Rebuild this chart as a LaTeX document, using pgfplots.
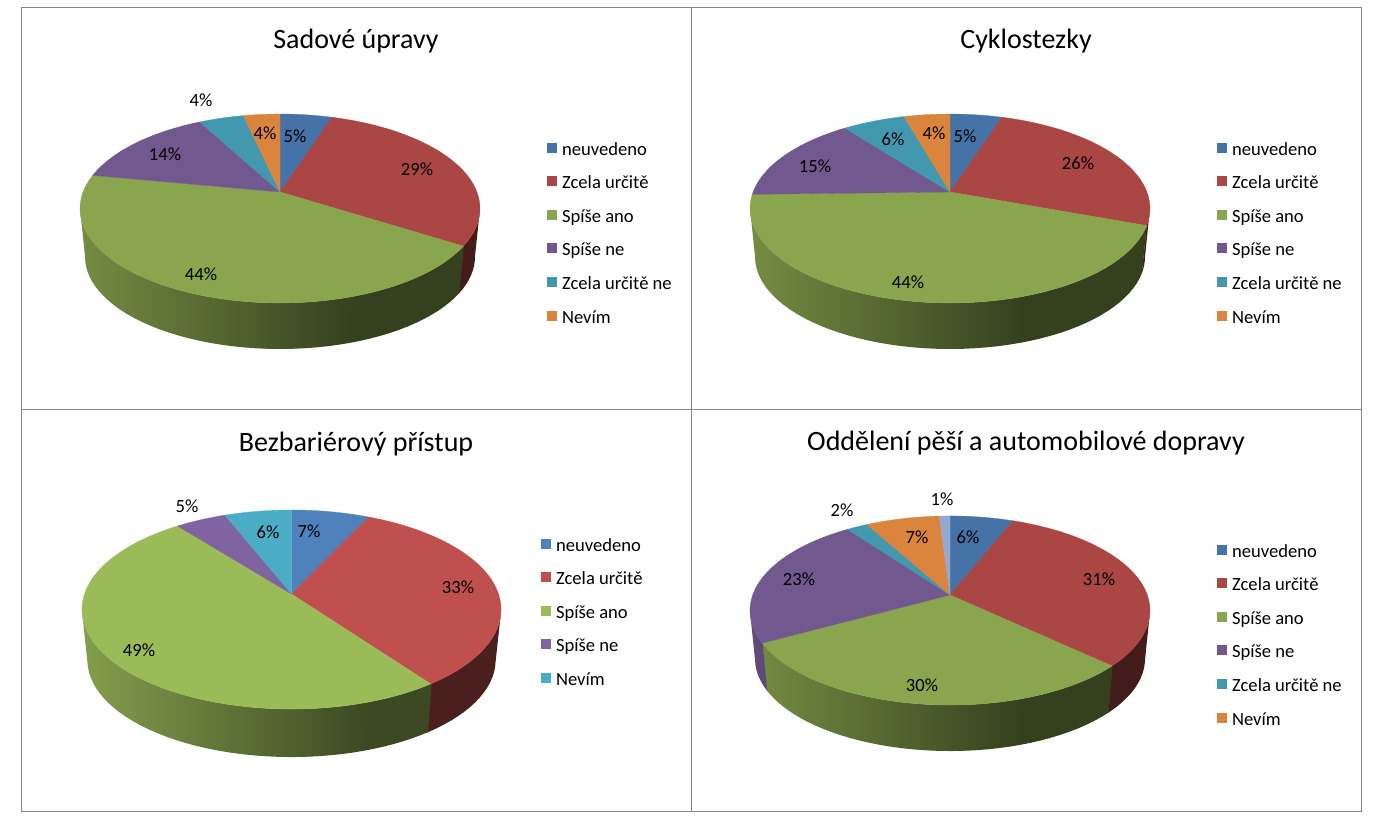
\documentclass[border=0pt]{standalone}
\usepackage{fontspec}
\setmainfont{Carlito}
\usepackage{pgfplots}
\pgfplotsset{compat=1.18}
\definecolor{aA}{HTML}{4572A7}\definecolor{aB}{HTML}{AA4643}\definecolor{aC}{HTML}{89A54E}
\definecolor{aD}{HTML}{71588F}\definecolor{aE}{HTML}{4198AF}\definecolor{aF}{HTML}{DB843D}
\definecolor{aG}{HTML}{93A9CF}
\definecolor{bA}{HTML}{4F81BD}\definecolor{bB}{HTML}{C0504D}\definecolor{bC}{HTML}{9BBB59}
\definecolor{bD}{HTML}{8064A2}\definecolor{bE}{HTML}{4BACC6}
\definecolor{frameg}{HTML}{868686}
% projection of the pie: centre, axes, perspective, depth
\newcommand\setpie[7]{\gdef\cx{#1}\gdef\cy{#2}\gdef\ax{#3}\gdef\ay{#4}\gdef\kk{#5}\gdef\ss{#6}\gdef\dd{#7}}
\newcommand\rimpoint[2]{%
  \pgfmathsetmacro\den{1+\kk*cos(#1)}%
  \pgfmathsetmacro\fac{1-#2*(1-\ss)}%
  \pgfmathsetmacro\PX{\cx+\fac*\ax*sin(#1)/\den}%
  \pgfmathsetmacro\PY{\cy-\fac*\ay*cos(#1)/\den+#2*\dd}%
}
\newcommand\topface[3]{%
  \xdef\pts{(\cx,\cy) }%
  \pgfmathtruncatemacro\NN{max(2,ceil((#2-#1)/2))}%
  \foreach \i in {0,...,\NN}{%
    \pgfmathsetmacro\th{#1+(#2-#1)*\i/\NN}%
    \rimpoint{\th}{0}%
    \xdef\pts{\pts (\PX,\PY) }%
  }%
  \edef\temp{\noexpand\addplot[forget plot,fill=#3,draw=#3,line width=.3pt] coordinates {\pts (\cx,\cy)};}\temp
}
\def\kneeangle{162.5}
% polygon of the side wall between two angles; #3 colour, #4 = 1 shaded, 0 flat dark
\newcommand\wallpoly[4]{%
  \pgfmathtruncatemacro\NN{max(1,ceil((#2-#1)/3))}%
  \xdef\pts{}\xdef\xmn{9999}\xdef\xmx{-9999}%
  \foreach \lo/\sgn in {0/1,1/-1}{%
    \foreach \i in {0,...,\NN}{%
      \pgfmathsetmacro\th{\sgn>0 ? #1+(#2-#1)*\i/\NN : #2-(#2-#1)*\i/\NN}%
      \rimpoint{\th}{\lo}%
      \xdef\pts{\pts (\PX,\PY) }%
      \pgfmathsetmacro\aa{min(\xmn,\PX)}\xdef\xmn{\aa}%
      \pgfmathsetmacro\aa{max(\xmx,\PX)}\xdef\xmx{\aa}%
    }%
  }%
  \ifnum#4=0
    \edef\temp{\noexpand\addplot[forget plot,fill={#3!39!black},draw=none] coordinates {\pts};}\temp
  \else
    \pgfmathsetmacro\tta{min(1,max(0,((\xmn-\cx)/\ax+1)/1.36))}%
    \pgfmathsetmacro\ttb{min(1,max(0,((\xmx-\cx)/\ax+1)/1.36))}%
    \pgfmathsetmacro\leva{85-46*\tta}%
    \pgfmathsetmacro\levb{85-46*\ttb}%
    \edef\temp{\noexpand\addplot[forget plot,left color={#3!\leva!black},right color={#3!\levb!black},draw=none] coordinates {\pts};}\temp
  \fi
}
\newcommand\wallface[3]{%
  \pgfmathsetmacro\wa{max(#1-0.3,100)}%
  \pgfmathsetmacro\wb{min(#2,260)}%
  \ifdim\wa pt<\wb pt
    \pgfmathsetmacro\wc{min(\wb,\kneeangle)}%
    \pgfmathsetmacro\wd{max(\wa,\kneeangle-0.3)}%
    \ifdim\wa pt<\wc pt \wallpoly{\wa}{\wc}{#3}{0}\fi
    \ifdim\wd pt<\wb pt \wallpoly{\wd}{\wb}{#3}{1}\fi
  \fi
}
\newcommand\pieslices[1]{%
  \gdef\cumu{0}%
  \foreach \v/\col in {#1}{%
    \pgfmathsetmacro\endp{\cumu+\v*3.6}%
    \wallface{\cumu}{\endp}{\col}%
    \pgfmathsetmacro\endp{\cumu+\v*3.6}%
    \xdef\cumu{\endp}%
  }%
  \gdef\cumu{0}%
  \foreach \v/\col in {#1}{%
    \pgfmathsetmacro\endp{\cumu+\v*3.6}%
    \topface{\cumu}{\endp}{\col}%
    \pgfmathsetmacro\endp{\cumu+\v*3.6}%
    \xdef\cumu{\endp}%
  }%
}
\pgfplotsset{panel/.style={
  scale only axis, y dir=reverse, clip=false,
  xtick=\empty, ytick=\empty,
  axis line style={draw=frameg,line width=1pt},
  legend image code/.code={\path[##1,draw=none] (0pt,-2pt) rectangle (10pt,8pt);},
  legend cell align=left,
},
lgd/.style 2 args={legend style={at={(axis cs:#1,#2)},anchor=north west,draw=none,fill=none,inner sep=0pt,outer sep=0pt,
  font=\fontsize{18.6}{20}\selectfont,
  nodes={inner sep=0pt,outer sep=0pt,text height=14pt,text depth=5pt},row sep=14.6pt,column sep=5pt}}}
\newcommand\ttl[3]{\node[font=\fontsize{28}{32}\selectfont,anchor=center] at (axis cs:#1,#2) {#3};}
\newcommand\lab[3]{\node[font=\fontsize{18.6}{22}\selectfont,anchor=center] at (axis cs:#1,#2) {#3\%};}
\begin{document}
\begin{tikzpicture}[x=1pt,y=1pt]
\path[use as bounding box] (0,0) rectangle (1385pt,836pt);
% ---- Sadové úpravy
\begin{axis}[panel,at={(21pt,427pt)},anchor=south west,width=670pt,height=401pt,
  xmin=21,xmax=691,ymin=8,ymax=409,lgd={547}{141}]
\setpie{280}{192}{196.9}{91.6}{0.1746}{0.975}{48.8}
\pieslices{5/aA,29/aB,44/aC,14.2/aD,4.3/aE,3.5/aF}
\addlegendimage{fill=aA}\addlegendimage{fill=aB}\addlegendimage{fill=aC}\addlegendimage{fill=aD}\addlegendimage{fill=aE}\addlegendimage{fill=aF}
\ttl{356}{41.5}{Sadové úpravy}
\lab{295}{136}{5}\lab{417}{169}{29}\lab{201}{274}{44}\lab{165}{154}{14}\lab{201}{100}{4}\lab{265}{133}{4}
\legend{neuvedeno,Zcela určitě,Spíše ano,Spíše ne,Zcela určitě ne,Nevím}
\end{axis}
% ---- Cyklostezky
\begin{axis}[panel,at={(691pt,427pt)},anchor=south west,width=670pt,height=401pt,
  xmin=691,xmax=1361,ymin=8,ymax=409,lgd={1217}{141}]
\setpie{950}{192}{196.9}{91.6}{0.1746}{0.975}{48.8}
\pieslices{5/aA,25.6/aB,44/aC,15/aD,6/aE,4.4/aF}
\addlegendimage{fill=aA}\addlegendimage{fill=aB}\addlegendimage{fill=aC}\addlegendimage{fill=aD}\addlegendimage{fill=aE}\addlegendimage{fill=aF}
\ttl{1026}{41.5}{Cyklostezky}
\lab{965}{136}{5}\lab{1078}{163}{26}\lab{908}{282}{44}\lab{815}{166}{15}\lab{893}{139}{6}\lab{934}{133}{4}
\legend{neuvedeno,Zcela určitě,Spíše ano,Spíše ne,Zcela určitě ne,Nevím}
\end{axis}
% ---- Bezbariérový přístup
\begin{axis}[panel,at={(21pt,25pt)},anchor=south west,width=670pt,height=402pt,
  xmin=21,xmax=691,ymin=409,ymax=811,lgd={541}{537}]
\setpie{291.5}{594}{207}{97.1}{0.156}{0.974}{51}
\pieslices{7/bA,33/bB,49.4/bC,4.6/bD,6/bE}
\addlegendimage{fill=bA}\addlegendimage{fill=bB}\addlegendimage{fill=bC}\addlegendimage{fill=bD}\addlegendimage{fill=bE}
\ttl{356}{444.5}{Bezbariérový přístup}
\lab{309}{531}{7}\lab{458}{587}{33}\lab{139}{650}{49}\lab{187}{506}{5}\lab{268}{532}{6}
\legend{neuvedeno,Zcela určitě,Spíše ano,Spíše ne,Nevím}
\end{axis}
% ---- Oddělení pěší a automobilové dopravy
\begin{axis}[panel,at={(691pt,25pt)},anchor=south west,width=670pt,height=402pt,
  xmin=691,xmax=1361,ymin=409,ymax=811,lgd={1217}{543}]
\setpie{950}{595}{197.3}{92}{0.164}{0.975}{48.75}
\pieslices{6/aA,31/aB,30/aC,23/aD,2/aE,7/aF,1/aG}
\addlegendimage{fill=aA}\addlegendimage{fill=aB}\addlegendimage{fill=aC}\addlegendimage{fill=aD}\addlegendimage{fill=aE}\addlegendimage{fill=aF}
\ttl{1026}{443.5}{Oddělení pěší a automobilové dopravy}
\lab{968}{537}{6}\lab{1099}{579}{31}\lab{922}{685}{30}\lab{799}{579}{23}\lab{842}{510}{2}\lab{917}{537}{7}\lab{942}{499}{1}
\legend{neuvedeno,Zcela určitě,Spíše ano,Spíše ne,Zcela určitě ne,Nevím}
\end{axis}
\end{tikzpicture}
\end{document}
